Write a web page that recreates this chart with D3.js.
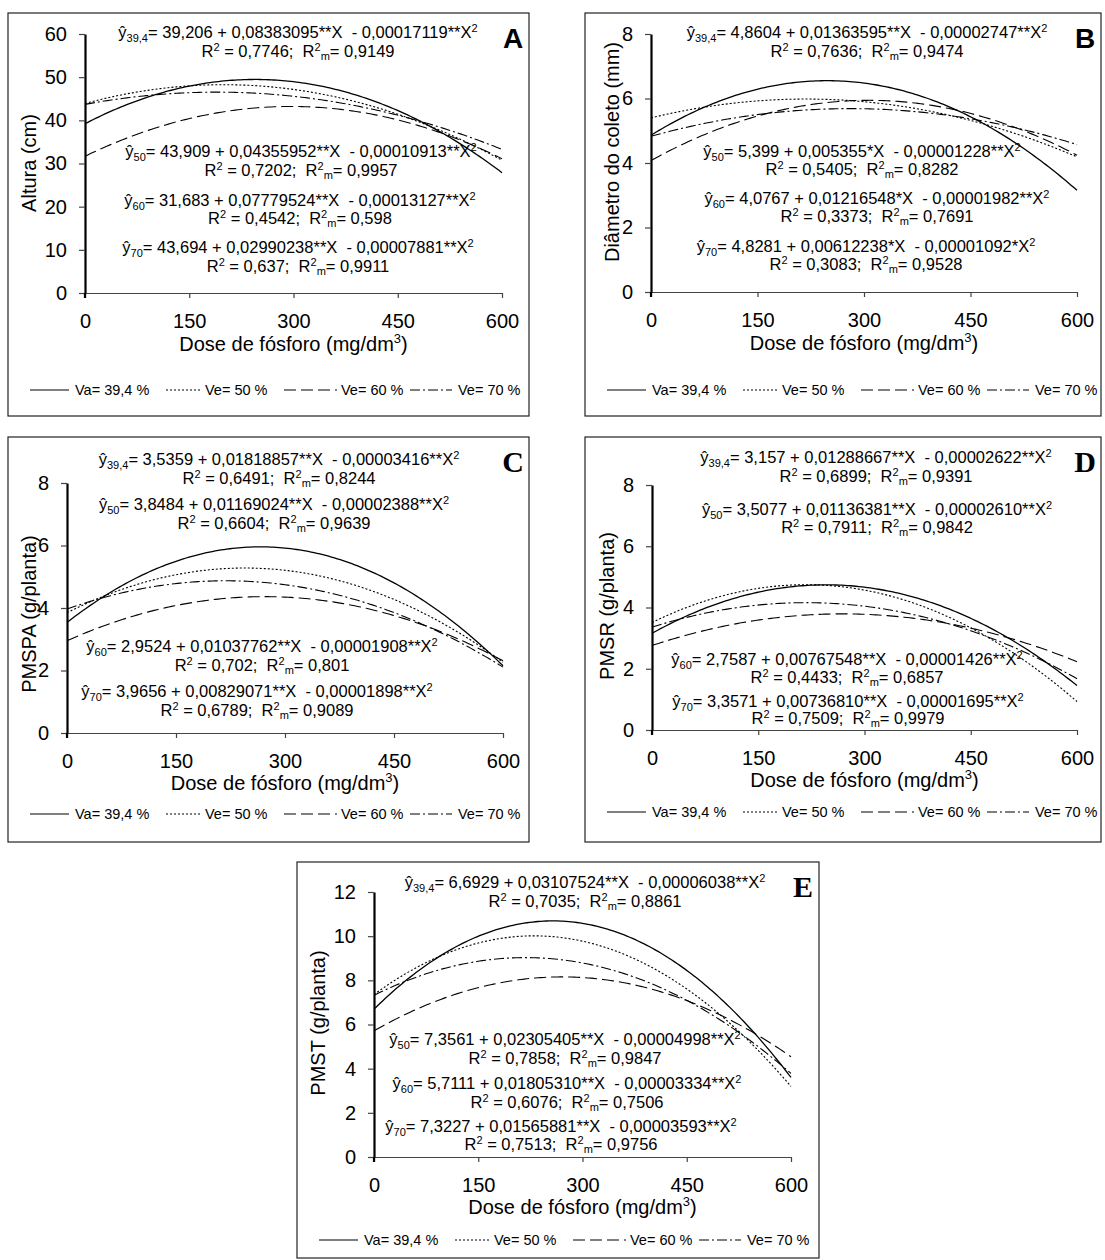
<!DOCTYPE html>
<html>
<head>
<meta charset="utf-8">
<script src="https://cdn.jsdelivr.net/npm/d3@7"></script>
<style>
  body { margin: 0; background: #fff; }
  svg text { font-family: "Liberation Sans", Arial, sans-serif; fill: #000; white-space: pre; }
</style>
</head>
<body>
<svg id="chart" width="1105" height="1260"></svg>
<script>
// ---- data ----
const doses = [0, 150, 300, 450, 600];
const seriesNames = ["Va= 39,4 %", "Ve= 50 %", "Ve= 60 %", "Ve= 70 %"];
const seriesSubs = ["39,4", "50", "60", "70"];

// fitted equations printed in each panel: b0, b1 (with signif. stars), b2 (with stars)
const alturaTicks = [0, 10, 20, 30, 40, 50, 60];
const alturaCoef = [
  ["39,206", "0,08383095**", "0,00017119**"],
  ["43,909", "0,04355952**", "0,00010913**"],
  ["31,683", "0,07779524**", "0,00013127**"],
  ["43,694", "0,02990238**", "0,00007881**"]
];
const alturaR2 = [["0,7746", "0,9149"], ["0,7202", "0,9957"], ["0,4542", "0,598"], ["0,637", "0,9911"]];

const diametroTicks = [0, 2, 4, 6, 8];
const diametroCoef = [
  ["4,8604", "0,01363595**", "0,00002747**"],
  ["5,399", "0,005355*", "0,00001228**"],
  ["4,0767", "0,01216548*", "0,00001982**"],
  ["4,8281", "0,00612238*", "0,00001092*"]
];
const diametroR2 = [["0,7636", "0,9474"], ["0,5405", "0,8282"], ["0,3373", "0,7691"], ["0,3083", "0,9528"]];

const pmspaTicks = [0, 2, 4, 6, 8];
const pmspaCoef = [
  ["3,5359", "0,01818857**", "0,00003416**"],
  ["3,8484", "0,01169024**", "0,00002388**"],
  ["2,9524", "0,01037762**", "0,00001908**"],
  ["3,9656", "0,00829071**", "0,00001898**"]
];
const pmspaR2 = [["0,6491", "0,8244"], ["0,6604", "0,9639"], ["0,702", "0,801"], ["0,6789", "0,9089"]];

const pmsrTicks = [0, 2, 4, 6, 8];
const pmsrCoef = [
  ["3,157", "0,01288667**", "0,00002622**"],
  ["3,5077", "0,01136381**", "0,00002610**"],
  ["2,7587", "0,00767548**", "0,00001426**"],
  ["3,3571", "0,00736810**", "0,00001695**"]
];
const pmsrR2 = [["0,6899", "0,9391"], ["0,7911", "0,9842"], ["0,4433", "0,6857"], ["0,7509", "0,9979"]];

const pmstTicks = [0, 2, 4, 6, 8, 10, 12];
const pmstCoef = [
  ["6,6929", "0,03107524**", "0,00006038**"],
  ["7,3561", "0,02305405**", "0,00004998**"],
  ["5,7111", "0,01805310**", "0,00003334**"],
  ["7,3227", "0,01565881**", "0,00003593**"]
];
const pmstR2 = [["0,7035", "0,8861"], ["0,7858", "0,9847"], ["0,6076", "0,7506"], ["0,7513", "0,9756"]];

// ---- layout ----
const dashes = [null, "2,2", "12,5", "10,3,2,3"];
const legendLine = [[22, 61], [158, 194], [276, 329], [402, 444]];
const legendText = [67, 197, 333, 450];

const panels = [
  { letter: "A", serif: false, ylabel: "Altura (cm)", ticks: alturaTicks, coef: alturaCoef, r2: alturaR2,
    box: [8, 13, 529, 416], plot: [85, 34, 502, 293], ylab: [29, 163], legendY: 390, titleDy: 58,
    eq: [[298, 38, 57], [301, 157, 176], [300, 206, 224], [298, 253, 272]] },
  { letter: "B", serif: false, ylabel: "Diâmetro do coleto (mm)", ticks: diametroTicks, coef: diametroCoef, r2: diametroR2,
    box: [585, 13, 1101, 416], plot: [651, 34, 1077, 292], ylab: [612, 152], legendY: 390, titleDy: 58,
    eq: [[867, 38, 57], [862, 157, 175], [877, 204, 222], [866, 252, 270]] },
  { letter: "C", serif: true, ylabel: "PMSPA (g/planta)", ticks: pmspaTicks, coef: pmspaCoef, r2: pmspaR2,
    box: [8, 437, 529, 842], plot: [67, 483, 503, 733], ylab: [29, 614], legendY: 814, titleDy: 57,
    eq: [[279, 465, 484], [274, 510, 529], [262, 652, 671], [257, 697, 716]] },
  { letter: "D", serif: true, ylabel: "PMSR (g/planta)", ticks: pmsrTicks, coef: pmsrCoef, r2: pmsrR2,
    box: [585, 437, 1101, 842], plot: [652, 485, 1077, 730], ylab: [607, 606], legendY: 812, titleDy: 57,
    eq: [[876, 463, 482], [877, 515, 533], [847, 665, 683], [848, 707, 724]] },
  { letter: "E", serif: true, ylabel: "PMST (g/planta)", ticks: pmstTicks, coef: pmstCoef, r2: pmstR2,
    box: [297, 862, 819, 1258], plot: [374, 892, 791, 1157], ylab: [318, 1023], legendY: 1240, titleDy: 57,
    eq: [[585, 888, 907], [565, 1045, 1064], [567, 1089, 1108], [561, 1132, 1150]] }
];

const num = s => +s.replace(/\*/g, "").replace(",", ".");
const svg = d3.select("#chart");

function eqText(g, cx, y, sub, c) {
  const t = g.append("text").attr("x", cx).attr("y", y).attr("text-anchor", "middle").style("font-size", "16.5px");
  t.append("tspan").text("ŷ");
  t.append("tspan").attr("dy", 4).style("font-size", "11px").text(sub);
  t.append("tspan").attr("dy", -4).text(`= ${c[0]} + ${c[1]}X  - ${c[2]}X`);
  t.append("tspan").attr("dy", -6).style("font-size", "11px").text("2");
}

function r2Text(g, cx, y, r) {
  const t = g.append("text").attr("x", cx).attr("y", y).attr("text-anchor", "middle").style("font-size", "16.5px");
  t.append("tspan").text("R");
  t.append("tspan").attr("dy", -6).style("font-size", "11px").text("2");
  t.append("tspan").attr("dy", 6).text(` = ${r[0]};  R`);
  t.append("tspan").attr("dy", -6).style("font-size", "11px").text("2");
  t.append("tspan").attr("dy", 9).style("font-size", "11px").text("m");
  t.append("tspan").attr("dy", -3).text(`= ${r[1]}`);
}

panels.forEach(p => {
  const g = svg.append("g");
  const [bx0, by0, bx1, by1] = p.box;
  const [px0, py0, px1, py1] = p.plot;

  g.append("rect").attr("x", bx0).attr("y", by0).attr("width", bx1 - bx0).attr("height", by1 - by0)
    .attr("fill", "none").attr("stroke", "#222").attr("stroke-width", 1.2);

  const x = d3.scaleLinear().domain([0, 600]).range([px0, px1]);
  const y = d3.scaleLinear().domain([0, d3.max(p.ticks)]).range([py1, py0]);

  // axes
  const xa = g.append("g").attr("transform", `translate(0,${py1})`)
    .call(d3.axisBottom(x).tickValues(doses).tickSize(5).tickSizeOuter(0).tickPadding(16).tickFormat(d3.format("d")));
  xa.select(".domain").attr("stroke", "#444").attr("stroke-width", 1.2);
  xa.selectAll(".tick line").attr("stroke", "#444").attr("stroke-width", 1.2);
  xa.selectAll("text").style("font-size", "20px").attr("font-family", null);

  const ya = g.append("g").attr("transform", `translate(${px0},0)`)
    .call(d3.axisLeft(y).tickValues(p.ticks).tickSize(6).tickSizeOuter(0).tickPadding(12).tickFormat(d3.format("d")));
  ya.select(".domain").attr("stroke", "#000").attr("stroke-width", 2.2);
  ya.selectAll(".tick line").attr("stroke", "#444").attr("stroke-width", 1.2);
  ya.selectAll("text").style("font-size", "20px").attr("font-family", null);
  // short tick below origin (Excel cross)
  g.append("line").attr("x1", px0).attr("x2", px0).attr("y1", py1).attr("y2", py1 + 5)
    .attr("stroke", "#000").attr("stroke-width", 2.2);

  // axis titles
  const xt = g.append("text").attr("x", (px0 + px1) / 2).attr("y", py1 + p.titleDy)
    .attr("text-anchor", "middle").style("font-size", "20px");
  xt.append("tspan").text("Dose de fósforo (mg/dm");
  xt.append("tspan").attr("dy", -8).style("font-size", "13px").text("3");
  xt.append("tspan").attr("dy", 8).text(")");

  g.append("text").attr("transform", `translate(${p.ylab[0]},${p.ylab[1]}) rotate(-90)`)
    .attr("text-anchor", "middle").attr("dy", "0.35em").style("font-size", "20px").text(p.ylabel);

  // fitted curves (quadratic models printed on the panel)
  const line = d3.line().x(d => x(d[0])).y(d => y(d[1]));
  p.coef.forEach((c, i) => {
    const b0 = num(c[0]), b1 = num(c[1]), b2 = -num(c[2]);
    const pts = d3.range(0, 601, 4).map(v => [v, b0 + b1 * v + b2 * v * v]);
    g.append("path").attr("d", line(pts)).attr("fill", "none").attr("stroke", "#000")
      .attr("stroke-width", i === 0 ? 1.3 : 1.1).attr("stroke-dasharray", dashes[i]);
  });

  // equations
  p.eq.forEach((e, i) => {
    eqText(g, e[0], e[1], seriesSubs[i], p.coef[i]);
    r2Text(g, e[0], e[2], p.r2[i]);
  });

  // panel letter
  g.append("text").attr("x", bx1 - 16).attr("y", by0 + 35)
    .attr("text-anchor", "middle")
    .style("font-family", p.serif ? "'Liberation Serif', 'Times New Roman', serif" : "'Liberation Sans', Arial, sans-serif")
    .style("font-weight", "bold").style("font-size", p.serif ? "30px" : "28px").text(p.letter);

  // legend
  seriesNames.forEach((s, i) => {
    g.append("line").attr("x1", bx0 + legendLine[i][0]).attr("x2", bx0 + legendLine[i][1])
      .attr("y1", p.legendY).attr("y2", p.legendY).attr("stroke", "#000")
      .attr("stroke-width", 1.1).attr("stroke-dasharray", dashes[i]);
    g.append("text").attr("x", bx0 + legendText[i]).attr("y", p.legendY + 5)
      .style("font-size", "14.5px").text(s);
  });
});
</script>
</body>
</html>
